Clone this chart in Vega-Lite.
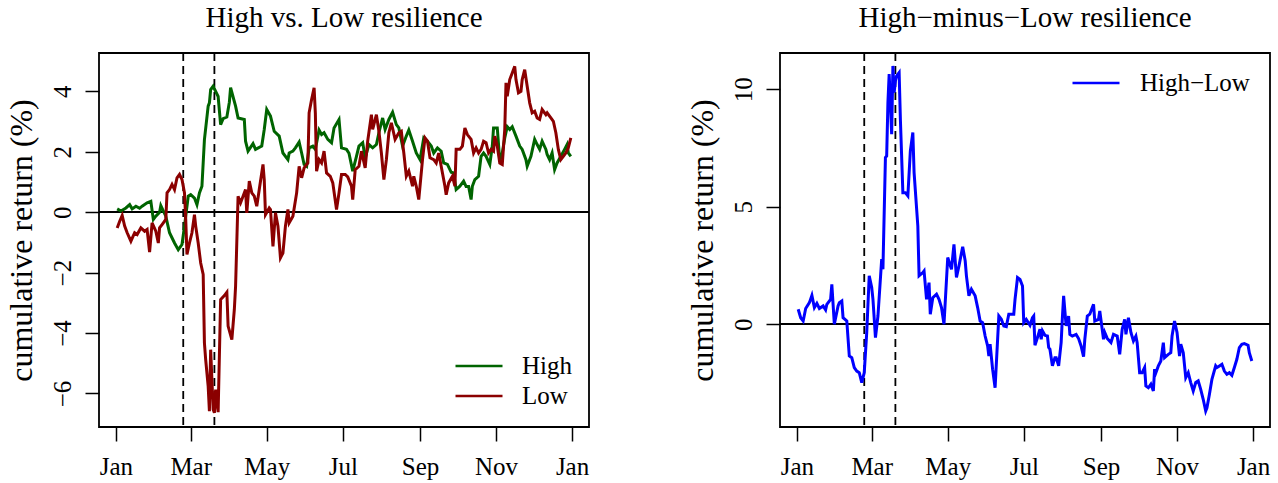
{
  "$schema": "https://vega.github.io/schema/vega-lite/v6.json",
  "background": "white",
  "padding": {"left": 4, "top": 3, "right": 0, "bottom": 0},
  "spacing": 191,
  "bounds": "flush",
  "config": {
    "font": "Liberation Serif",
    "view": {"stroke": "black", "strokeWidth": 1.8},
    "axis": {
      "domain": false, "grid": false,
      "tickColor": "black", "tickWidth": 1.5, "tickSize": 14,
      "labelFont": "Liberation Serif", "labelFontSize": 25, "labelColor": "black",
      "titleFont": "Liberation Serif", "titleFontSize": 32, "titleFontWeight": "normal", "titleColor": "black"
    },
    "title": {"font": "Liberation Serif", "fontSize": 29, "fontWeight": "normal", "color": "black", "anchor": "middle", "offset": 19},
    "legend": {"padding": 0}
  },
  "resolve": {"scale": {"color": "independent"}},
  "datasets": {
    "events": [{"d": "2020-02-24"}, {"d": "2020-03-20"}],
    "hl": [
      {"d":"2020-01-02","v":0.64},{"d":"2020-01-04","v":0.28},{"d":"2020-01-06","v":0.14},{"d":"2020-01-08","v":0.67},{"d":"2020-01-11","v":0.92},{"d":"2020-01-13","v":1.23},{"d":"2020-01-15","v":0.71},{"d":"2020-01-17","v":0.89},{"d":"2020-01-19","v":0.67},{"d":"2020-01-22","v":0.78},{"d":"2020-01-24","v":0.61},{"d":"2020-01-25","v":0.85},{"d":"2020-01-28","v":1.06},{"d":"2020-01-29","v":1.70},{"d":"2020-01-31","v":0.00},
      {"d":"2020-02-03","v":0.78},{"d":"2020-02-04","v":0.92},{"d":"2020-02-06","v":0.99},{"d":"2020-02-07","v":0.28},{"d":"2020-02-10","v":0.14},{"d":"2020-02-12","v":-1.35},{"d":"2020-02-14","v":-1.42},{"d":"2020-02-16","v":-1.84},{"d":"2020-02-18","v":-1.99},{"d":"2020-02-20","v":-2.06},{"d":"2020-02-22","v":-2.48},{"d":"2020-02-24","v":-2.06},{"d":"2020-02-26","v":-0.35},{"d":"2020-02-28","v":2.06},
      {"d":"2020-03-01","v":1.56},{"d":"2020-03-02","v":1.06},{"d":"2020-03-04","v":-0.57},{"d":"2020-03-06","v":0.35},{"d":"2020-03-09","v":2.77},{"d":"2020-03-10","v":2.34},{"d":"2020-03-12","v":7.09},{"d":"2020-03-13","v":7.16},{"d":"2020-03-14","v":9.43},{"d":"2020-03-15","v":10.64},{"d":"2020-03-17","v":8.09},{"d":"2020-03-18","v":10.99},{"d":"2020-03-19","v":9.86},{"d":"2020-03-20","v":10.35},{"d":"2020-03-21","v":10.57},{"d":"2020-03-23","v":10.71},{"d":"2020-03-24","v":8.72},{"d":"2020-03-26","v":5.60},{"d":"2020-03-28","v":5.60},{"d":"2020-03-30","v":5.46},
      {"d":"2020-04-01","v":7.38},{"d":"2020-04-03","v":8.16},{"d":"2020-04-04","v":6.45},{"d":"2020-04-07","v":4.18},{"d":"2020-04-08","v":2.06},{"d":"2020-04-11","v":2.20},{"d":"2020-04-12","v":2.27},{"d":"2020-04-14","v":1.06},{"d":"2020-04-16","v":1.77},{"d":"2020-04-17","v":0.43},{"d":"2020-04-19","v":1.13},{"d":"2020-04-22","v":1.28},{"d":"2020-04-24","v":1.06},{"d":"2020-04-26","v":0.71},{"d":"2020-04-28","v":0.00},
      {"d":"2020-05-01","v":2.84},{"d":"2020-05-03","v":2.50},{"d":"2020-05-04","v":2.34},{"d":"2020-05-06","v":3.40},{"d":"2020-05-08","v":1.99},{"d":"2020-05-10","v":2.48},{"d":"2020-05-13","v":3.30},{"d":"2020-05-15","v":2.70},{"d":"2020-05-16","v":2.06},{"d":"2020-05-18","v":1.21},{"d":"2020-05-20","v":1.49},{"d":"2020-05-23","v":1.21},{"d":"2020-05-25","v":0.71},{"d":"2020-05-27","v":0.14},{"d":"2020-05-29","v":0.07},{"d":"2020-05-31","v":-0.50},
      {"d":"2020-06-02","v":-0.92},{"d":"2020-06-03","v":-1.35},{"d":"2020-06-04","v":-0.85},{"d":"2020-06-06","v":-1.91},{"d":"2020-06-08","v":-2.70},{"d":"2020-06-11","v":0.35},{"d":"2020-06-13","v":0.21},{"d":"2020-06-15","v":-0.07},{"d":"2020-06-17","v":-0.10},{"d":"2020-06-19","v":0.43},{"d":"2020-06-21","v":0.43},{"d":"2020-06-23","v":0.43},{"d":"2020-06-24","v":1.06},{"d":"2020-06-26","v":1.99},{"d":"2020-06-28","v":1.91},{"d":"2020-06-30","v":1.63},
      {"d":"2020-07-01","v":0.07},{"d":"2020-07-03","v":0.21},{"d":"2020-07-06","v":-0.04},{"d":"2020-07-08","v":0.28},{"d":"2020-07-09","v":0.35},{"d":"2020-07-10","v":-0.89},{"d":"2020-07-12","v":-0.57},{"d":"2020-07-14","v":-0.21},{"d":"2020-07-15","v":-0.64},{"d":"2020-07-16","v":-0.28},{"d":"2020-07-18","v":-0.47},{"d":"2020-07-20","v":-0.50},{"d":"2020-07-21","v":-0.99},{"d":"2020-07-22","v":-1.06},{"d":"2020-07-24","v":-1.77},{"d":"2020-07-26","v":-1.42},{"d":"2020-07-27","v":-1.42},{"d":"2020-07-29","v":-1.77},{"d":"2020-07-31","v":-0.78},
      {"d":"2020-08-01","v":0.28},{"d":"2020-08-02","v":1.21},{"d":"2020-08-04","v":-0.07},{"d":"2020-08-06","v":0.35},{"d":"2020-08-07","v":-0.43},{"d":"2020-08-09","v":-0.50},{"d":"2020-08-12","v":-0.43},{"d":"2020-08-14","v":-0.61},{"d":"2020-08-16","v":-0.92},{"d":"2020-08-18","v":-1.38},{"d":"2020-08-19","v":-0.64},{"d":"2020-08-21","v":0.35},{"d":"2020-08-23","v":0.43},{"d":"2020-08-26","v":0.85},{"d":"2020-08-27","v":0.14},{"d":"2020-08-30","v":0.21},{"d":"2020-08-31","v":0.57},
      {"d":"2020-09-03","v":-0.64},{"d":"2020-09-04","v":-0.35},{"d":"2020-09-06","v":-0.60},{"d":"2020-09-09","v":-0.78},{"d":"2020-09-11","v":-0.43},{"d":"2020-09-14","v":-0.50},{"d":"2020-09-16","v":-1.28},{"d":"2020-09-18","v":-0.21},{"d":"2020-09-20","v":0.21},{"d":"2020-09-21","v":-0.43},{"d":"2020-09-23","v":0.28},{"d":"2020-09-25","v":-0.35},{"d":"2020-09-27","v":-0.71},{"d":"2020-09-29","v":-0.50},{"d":"2020-09-30","v":-0.78},
      {"d":"2020-10-02","v":-2.06},{"d":"2020-10-04","v":-2.06},{"d":"2020-10-06","v":-1.84},{"d":"2020-10-07","v":-2.62},{"d":"2020-10-09","v":-2.70},{"d":"2020-10-11","v":-2.55},{"d":"2020-10-13","v":-2.84},{"d":"2020-10-14","v":-1.91},{"d":"2020-10-15","v":-2.06},{"d":"2020-10-17","v":-1.77},{"d":"2020-10-19","v":-1.56},{"d":"2020-10-21","v":-0.78},{"d":"2020-10-22","v":-1.42},{"d":"2020-10-25","v":-1.28},{"d":"2020-10-27","v":-1.21},{"d":"2020-10-28","v":-0.50},{"d":"2020-10-30","v":0.14},
      {"d":"2020-11-01","v":-0.35},{"d":"2020-11-03","v":-1.35},{"d":"2020-11-04","v":-0.85},{"d":"2020-11-06","v":-1.21},{"d":"2020-11-08","v":-2.27},{"d":"2020-11-10","v":-2.06},{"d":"2020-11-12","v":-2.48},{"d":"2020-11-14","v":-2.84},{"d":"2020-11-16","v":-2.48},{"d":"2020-11-18","v":-2.41},{"d":"2020-11-20","v":-2.77},{"d":"2020-11-22","v":-3.19},{"d":"2020-11-24","v":-3.69},{"d":"2020-11-25","v":-3.55},{"d":"2020-11-27","v":-2.98},{"d":"2020-11-29","v":-2.34},
      {"d":"2020-12-02","v":-1.77},{"d":"2020-12-03","v":-1.84},{"d":"2020-12-05","v":-1.77},{"d":"2020-12-07","v":-1.70},{"d":"2020-12-09","v":-1.99},{"d":"2020-12-11","v":-2.13},{"d":"2020-12-13","v":-2.06},{"d":"2020-12-15","v":-2.17},{"d":"2020-12-17","v":-1.84},{"d":"2020-12-19","v":-1.49},{"d":"2020-12-21","v":-0.99},{"d":"2020-12-23","v":-0.85},{"d":"2020-12-25","v":-0.82},{"d":"2020-12-28","v":-0.89},{"d":"2020-12-29","v":-1.21},{"d":"2020-12-31","v":-1.56}
    ],
    "lr": [
      {"d":"2020-01-02","s":"High","v":0.11},{"d":"2020-01-05","s":"High","v":0.04},{"d":"2020-01-09","s":"High","v":0.14},{"d":"2020-01-12","s":"High","v":0.25},{"d":"2020-01-14","s":"High","v":0.11},{"d":"2020-01-17","s":"High","v":0.20},{"d":"2020-01-20","s":"High","v":0.13},{"d":"2020-01-22","s":"High","v":0.20},{"d":"2020-01-26","s":"High","v":0.31},{"d":"2020-01-29","s":"High","v":0.36},{"d":"2020-01-31","s":"High","v":-0.24},
      {"d":"2020-02-02","s":"High","v":-0.13},{"d":"2020-02-05","s":"High","v":0.00},{"d":"2020-02-06","s":"High","v":0.22},{"d":"2020-02-10","s":"High","v":-0.13},{"d":"2020-02-13","s":"High","v":-0.68},{"d":"2020-02-17","s":"High","v":-1.02},{"d":"2020-02-20","s":"High","v":-1.24},{"d":"2020-02-23","s":"High","v":-1.07},{"d":"2020-02-25","s":"High","v":-0.46},{"d":"2020-02-28","s":"High","v":0.53},
      {"d":"2020-03-01","s":"High","v":0.58},{"d":"2020-03-04","s":"High","v":0.47},{"d":"2020-03-06","s":"High","v":0.25},{"d":"2020-03-08","s":"High","v":0.64},{"d":"2020-03-10","s":"High","v":0.86},{"d":"2020-03-11","s":"High","v":1.63},{"d":"2020-03-12","s":"High","v":2.40},{"d":"2020-03-15","s":"High","v":3.51},{"d":"2020-03-16","s":"High","v":3.62},{"d":"2020-03-17","s":"High","v":4.06},{"d":"2020-03-19","s":"High","v":4.17},{"d":"2020-03-21","s":"High","v":4.00},{"d":"2020-03-23","s":"High","v":3.83},{"d":"2020-03-25","s":"High","v":2.90},{"d":"2020-03-27","s":"High","v":3.10},{"d":"2020-03-30","s":"High","v":3.15},
      {"d":"2020-04-01","s":"High","v":3.64},{"d":"2020-04-02","s":"High","v":4.12},{"d":"2020-04-06","s":"High","v":3.51},{"d":"2020-04-08","s":"High","v":3.12},{"d":"2020-04-13","s":"High","v":3.07},{"d":"2020-04-14","s":"High","v":2.35},{"d":"2020-04-16","s":"High","v":2.02},{"d":"2020-04-20","s":"High","v":2.27},{"d":"2020-04-22","s":"High","v":2.08},{"d":"2020-04-27","s":"High","v":2.19},{"d":"2020-04-29","s":"High","v":2.74},
      {"d":"2020-05-01","s":"High","v":3.40},{"d":"2020-05-04","s":"High","v":3.18},{"d":"2020-05-07","s":"High","v":2.68},{"d":"2020-05-11","s":"High","v":2.52},{"d":"2020-05-14","s":"High","v":1.96},{"d":"2020-05-18","s":"High","v":1.74},{"d":"2020-05-19","s":"High","v":1.96},{"d":"2020-05-22","s":"High","v":2.02},{"d":"2020-05-24","s":"High","v":2.13},{"d":"2020-05-27","s":"High","v":2.32},{"d":"2020-05-29","s":"High","v":1.96},{"d":"2020-05-31","s":"High","v":1.58},
      {"d":"2020-06-02","s":"High","v":1.52},{"d":"2020-06-04","s":"High","v":2.13},{"d":"2020-06-07","s":"High","v":2.19},{"d":"2020-06-09","s":"High","v":2.08},{"d":"2020-06-12","s":"High","v":2.72},{"d":"2020-06-14","s":"High","v":2.57},{"d":"2020-06-16","s":"High","v":2.63},{"d":"2020-06-19","s":"High","v":2.41},{"d":"2020-06-22","s":"High","v":2.30},{"d":"2020-06-24","s":"High","v":2.79},{"d":"2020-06-28","s":"High","v":3.07},{"d":"2020-06-30","s":"High","v":2.13},
      {"d":"2020-07-04","s":"High","v":2.08},{"d":"2020-07-06","s":"High","v":1.95},{"d":"2020-07-09","s":"High","v":1.36},{"d":"2020-07-12","s":"High","v":1.85},{"d":"2020-07-14","s":"High","v":2.19},{"d":"2020-07-17","s":"High","v":2.30},{"d":"2020-07-19","s":"High","v":1.80},{"d":"2020-07-22","s":"High","v":2.24},{"d":"2020-07-25","s":"High","v":2.13},{"d":"2020-07-28","s":"High","v":2.24},{"d":"2020-07-30","s":"High","v":2.63},
      {"d":"2020-08-02","s":"High","v":3.12},{"d":"2020-08-04","s":"High","v":2.74},{"d":"2020-08-07","s":"High","v":3.07},{"d":"2020-08-10","s":"High","v":3.31},{"d":"2020-08-13","s":"High","v":2.90},{"d":"2020-08-15","s":"High","v":2.79},{"d":"2020-08-18","s":"High","v":2.19},{"d":"2020-08-21","s":"High","v":2.52},{"d":"2020-08-23","s":"High","v":2.72},{"d":"2020-08-26","s":"High","v":2.35},{"d":"2020-08-29","s":"High","v":1.96},
      {"d":"2020-09-01","s":"High","v":1.74},{"d":"2020-09-04","s":"High","v":2.46},{"d":"2020-09-07","s":"High","v":2.35},{"d":"2020-09-10","s":"High","v":2.19},{"d":"2020-09-12","s":"High","v":1.96},{"d":"2020-09-15","s":"High","v":2.13},{"d":"2020-09-18","s":"High","v":2.02},{"d":"2020-09-20","s":"High","v":1.63},{"d":"2020-09-23","s":"High","v":1.58},{"d":"2020-09-26","s":"High","v":1.32},{"d":"2020-09-28","s":"High","v":1.30},{"d":"2020-09-30","s":"High","v":0.75},
      {"d":"2020-10-03","s":"High","v":0.86},{"d":"2020-10-06","s":"High","v":1.03},{"d":"2020-10-08","s":"High","v":0.85},{"d":"2020-10-10","s":"High","v":0.85},{"d":"2020-10-12","s":"High","v":0.42},{"d":"2020-10-13","s":"High","v":0.86},{"d":"2020-10-15","s":"High","v":1.08},{"d":"2020-10-18","s":"High","v":1.19},{"d":"2020-10-20","s":"High","v":1.85},{"d":"2020-10-22","s":"High","v":1.96},{"d":"2020-10-24","s":"High","v":1.85},{"d":"2020-10-27","s":"High","v":1.58},{"d":"2020-10-29","s":"High","v":2.19},{"d":"2020-10-30","s":"High","v":2.79},
      {"d":"2020-11-02","s":"High","v":2.79},{"d":"2020-11-04","s":"High","v":1.69},{"d":"2020-11-06","s":"High","v":1.96},{"d":"2020-11-08","s":"High","v":2.46},{"d":"2020-11-10","s":"High","v":2.83},{"d":"2020-11-12","s":"High","v":2.74},{"d":"2020-11-14","s":"High","v":2.83},{"d":"2020-11-17","s":"High","v":2.52},{"d":"2020-11-20","s":"High","v":2.19},{"d":"2020-11-22","s":"High","v":2.08},{"d":"2020-11-25","s":"High","v":1.74},{"d":"2020-11-26","s":"High","v":1.52},{"d":"2020-11-29","s":"High","v":1.85},
      {"d":"2020-12-02","s":"High","v":2.41},{"d":"2020-12-04","s":"High","v":2.24},{"d":"2020-12-06","s":"High","v":2.08},{"d":"2020-12-08","s":"High","v":2.35},{"d":"2020-12-11","s":"High","v":2.08},{"d":"2020-12-12","s":"High","v":1.91},{"d":"2020-12-14","s":"High","v":1.74},{"d":"2020-12-16","s":"High","v":1.96},{"d":"2020-12-18","s":"High","v":1.41},{"d":"2020-12-20","s":"High","v":1.63},{"d":"2020-12-23","s":"High","v":1.85},{"d":"2020-12-26","s":"High","v":2.08},{"d":"2020-12-28","s":"High","v":2.24},{"d":"2020-12-29","s":"High","v":1.96},{"d":"2020-12-31","s":"High","v":1.85},
      {"d":"2020-01-02","s":"Low","v":-0.52},{"d":"2020-01-04","s":"Low","v":-0.30},{"d":"2020-01-06","s":"Low","v":-0.11},{"d":"2020-01-08","s":"Low","v":-0.46},{"d":"2020-01-10","s":"Low","v":-0.68},{"d":"2020-01-13","s":"Low","v":-0.96},{"d":"2020-01-16","s":"Low","v":-0.68},{"d":"2020-01-18","s":"Low","v":-0.74},{"d":"2020-01-21","s":"Low","v":-0.52},{"d":"2020-01-24","s":"Low","v":-0.63},{"d":"2020-01-26","s":"Low","v":-0.57},{"d":"2020-01-28","s":"Low","v":-1.32},{"d":"2020-01-30","s":"Low","v":-0.35},
      {"d":"2020-02-02","s":"Low","v":-0.63},{"d":"2020-02-04","s":"Low","v":-1.02},{"d":"2020-02-05","s":"Low","v":-0.52},{"d":"2020-02-07","s":"Low","v":-0.41},{"d":"2020-02-10","s":"Low","v":-0.24},{"d":"2020-02-11","s":"Low","v":0.64},{"d":"2020-02-13","s":"Low","v":0.75},{"d":"2020-02-15","s":"Low","v":0.92},{"d":"2020-02-17","s":"Low","v":0.75},{"d":"2020-02-19","s":"Low","v":1.14},{"d":"2020-02-21","s":"Low","v":1.25},{"d":"2020-02-23","s":"Low","v":1.08},{"d":"2020-02-25","s":"Low","v":0.64},{"d":"2020-02-26","s":"Low","v":-0.24},{"d":"2020-02-27","s":"Low","v":-1.40},{"d":"2020-02-29","s":"Low","v":-1.02},
      {"d":"2020-03-02","s":"Low","v":-0.68},{"d":"2020-03-04","s":"Low","v":-0.08},{"d":"2020-03-05","s":"Low","v":-0.46},{"d":"2020-03-07","s":"Low","v":-1.02},{"d":"2020-03-09","s":"Low","v":-1.68},{"d":"2020-03-11","s":"Low","v":-2.06},{"d":"2020-03-12","s":"Low","v":-4.33},{"d":"2020-03-13","s":"Low","v":-4.88},{"d":"2020-03-15","s":"Low","v":-5.76},{"d":"2020-03-16","s":"Low","v":-6.59},{"d":"2020-03-17","s":"Low","v":-4.55},{"d":"2020-03-19","s":"Low","v":-6.53},{"d":"2020-03-20","s":"Low","v":-6.64},{"d":"2020-03-21","s":"Low","v":-5.87},{"d":"2020-03-23","s":"Low","v":-6.62},{"d":"2020-03-25","s":"Low","v":-2.89},{"d":"2020-03-28","s":"Low","v":-2.76},{"d":"2020-03-30","s":"Low","v":-2.65},{"d":"2020-03-31","s":"Low","v":-3.77},
      {"d":"2020-04-03","s":"Low","v":-4.22},{"d":"2020-04-05","s":"Low","v":-3.22},{"d":"2020-04-06","s":"Low","v":-2.45},{"d":"2020-04-08","s":"Low","v":0.53},{"d":"2020-04-10","s":"Low","v":0.31},{"d":"2020-04-12","s":"Low","v":0.53},{"d":"2020-04-14","s":"Low","v":0.75},{"d":"2020-04-15","s":"Low","v":-0.02},{"d":"2020-04-17","s":"Low","v":1.03},{"d":"2020-04-19","s":"Low","v":0.64},{"d":"2020-04-21","s":"Low","v":0.53},{"d":"2020-04-23","s":"Low","v":0.20},{"d":"2020-04-25","s":"Low","v":0.75},{"d":"2020-04-28","s":"Low","v":1.58},{"d":"2020-04-29","s":"Low","v":1.08},{"d":"2020-04-30","s":"Low","v":-0.08},
      {"d":"2020-05-03","s":"Low","v":0.14},{"d":"2020-05-04","s":"Low","v":0.09},{"d":"2020-05-06","s":"Low","v":-1.13},{"d":"2020-05-08","s":"Low","v":-0.02},{"d":"2020-05-10","s":"Low","v":-0.46},{"d":"2020-05-12","s":"Low","v":-1.51},{"d":"2020-05-14","s":"Low","v":-1.35},{"d":"2020-05-16","s":"Low","v":-0.46},{"d":"2020-05-18","s":"Low","v":0.09},{"d":"2020-05-19","s":"Low","v":-0.35},{"d":"2020-05-22","s":"Low","v":-0.13},{"d":"2020-05-25","s":"Low","v":0.64},{"d":"2020-05-27","s":"Low","v":1.52},{"d":"2020-05-29","s":"Low","v":1.14},{"d":"2020-05-31","s":"Low","v":1.47},
      {"d":"2020-06-03","s":"Low","v":1.63},{"d":"2020-06-04","s":"Low","v":3.29},{"d":"2020-06-06","s":"Low","v":3.73},{"d":"2020-06-08","s":"Low","v":4.12},{"d":"2020-06-09","s":"Low","v":3.29},{"d":"2020-06-10","s":"Low","v":1.36},{"d":"2020-06-12","s":"Low","v":1.74},{"d":"2020-06-14","s":"Low","v":1.63},{"d":"2020-06-16","s":"Low","v":2.02},{"d":"2020-06-18","s":"Low","v":1.30},{"d":"2020-06-21","s":"Low","v":1.19},{"d":"2020-06-23","s":"Low","v":0.97},{"d":"2020-06-26","s":"Low","v":0.09},{"d":"2020-06-28","s":"Low","v":0.64},{"d":"2020-06-30","s":"Low","v":1.25},
      {"d":"2020-07-03","s":"Low","v":1.25},{"d":"2020-07-05","s":"Low","v":1.17},{"d":"2020-07-08","s":"Low","v":0.86},{"d":"2020-07-09","s":"Low","v":0.42},{"d":"2020-07-11","s":"Low","v":1.41},{"d":"2020-07-14","s":"Low","v":1.52},{"d":"2020-07-16","s":"Low","v":2.02},{"d":"2020-07-19","s":"Low","v":1.47},{"d":"2020-07-21","s":"Low","v":2.35},{"d":"2020-07-24","s":"Low","v":3.23},{"d":"2020-07-25","s":"Low","v":2.74},{"d":"2020-07-28","s":"Low","v":3.23},{"d":"2020-07-30","s":"Low","v":2.68},
      {"d":"2020-08-01","s":"Low","v":1.96},{"d":"2020-08-03","s":"Low","v":1.08},{"d":"2020-08-05","s":"Low","v":1.74},{"d":"2020-08-07","s":"Low","v":2.63},{"d":"2020-08-09","s":"Low","v":2.96},{"d":"2020-08-12","s":"Low","v":2.41},{"d":"2020-08-15","s":"Low","v":2.63},{"d":"2020-08-17","s":"Low","v":2.68},{"d":"2020-08-19","s":"Low","v":1.96},{"d":"2020-08-21","s":"Low","v":1.19},{"d":"2020-08-23","s":"Low","v":1.36},{"d":"2020-08-26","s":"Low","v":0.86},{"d":"2020-08-27","s":"Low","v":1.19},{"d":"2020-08-29","s":"Low","v":0.86},{"d":"2020-08-31","s":"Low","v":0.42},
      {"d":"2020-09-03","s":"Low","v":1.74},{"d":"2020-09-05","s":"Low","v":2.46},{"d":"2020-09-07","s":"Low","v":2.35},{"d":"2020-09-09","s":"Low","v":1.80},{"d":"2020-09-12","s":"Low","v":1.74},{"d":"2020-09-14","s":"Low","v":1.63},{"d":"2020-09-16","s":"Low","v":1.96},{"d":"2020-09-19","s":"Low","v":1.30},{"d":"2020-09-21","s":"Low","v":0.86},{"d":"2020-09-22","s":"Low","v":0.58},{"d":"2020-09-24","s":"Low","v":0.97},{"d":"2020-09-27","s":"Low","v":1.19},{"d":"2020-09-29","s":"Low","v":0.86},{"d":"2020-09-30","s":"Low","v":2.08},
      {"d":"2020-10-03","s":"Low","v":2.08},{"d":"2020-10-05","s":"Low","v":2.19},{"d":"2020-10-07","s":"Low","v":2.79},{"d":"2020-10-09","s":"Low","v":2.57},{"d":"2020-10-12","s":"Low","v":2.41},{"d":"2020-10-14","s":"Low","v":1.96},{"d":"2020-10-16","s":"Low","v":2.13},{"d":"2020-10-18","s":"Low","v":1.96},{"d":"2020-10-20","s":"Low","v":2.08},{"d":"2020-10-22","s":"Low","v":2.35},{"d":"2020-10-24","s":"Low","v":2.30},{"d":"2020-10-26","s":"Low","v":1.96},{"d":"2020-10-28","s":"Low","v":2.08},{"d":"2020-10-30","s":"Low","v":2.02},{"d":"2020-10-31","s":"Low","v":2.52},
      {"d":"2020-11-02","s":"Low","v":2.19},{"d":"2020-11-04","s":"Low","v":1.63},{"d":"2020-11-06","s":"Low","v":1.58},{"d":"2020-11-08","s":"Low","v":2.74},{"d":"2020-11-09","s":"Low","v":4.28},{"d":"2020-11-10","s":"Low","v":3.84},{"d":"2020-11-12","s":"Low","v":4.39},{"d":"2020-11-14","s":"Low","v":4.61},{"d":"2020-11-16","s":"Low","v":4.83},{"d":"2020-11-17","s":"Low","v":4.39},{"d":"2020-11-19","s":"Low","v":3.95},{"d":"2020-11-21","s":"Low","v":4.00},{"d":"2020-11-22","s":"Low","v":4.39},{"d":"2020-11-24","s":"Low","v":4.72},{"d":"2020-11-26","s":"Low","v":4.17},{"d":"2020-11-28","s":"Low","v":3.62},{"d":"2020-11-30","s":"Low","v":3.29},
      {"d":"2020-12-02","s":"Low","v":3.34},{"d":"2020-12-04","s":"Low","v":3.12},{"d":"2020-12-06","s":"Low","v":3.07},{"d":"2020-12-08","s":"Low","v":3.40},{"d":"2020-12-11","s":"Low","v":3.23},{"d":"2020-12-12","s":"Low","v":3.29},{"d":"2020-12-15","s":"Low","v":3.12},{"d":"2020-12-17","s":"Low","v":3.01},{"d":"2020-12-19","s":"Low","v":2.63},{"d":"2020-12-21","s":"Low","v":2.08},{"d":"2020-12-23","s":"Low","v":1.74},{"d":"2020-12-25","s":"Low","v":1.85},{"d":"2020-12-27","s":"Low","v":1.96},{"d":"2020-12-29","s":"Low","v":2.13},{"d":"2020-12-31","s":"Low","v":2.46}
    ]
  },
  "hconcat": [
    {
      "width": 490, "height": 374,
      "title": "High vs. Low resilience",
      "layer": [
        {
          "data": {"name": "lr"},
          "mark": {"type": "rule", "color": "black", "strokeWidth": 1},
          "encoding": {"y": {"datum": 0, "type": "quantitative"}}
        },
        {
          "data": {"name": "events"},
          "mark": {"type": "rule", "color": "black", "strokeWidth": 1.8, "strokeDash": [8, 5]},
          "encoding": {"x": {"field": "d", "type": "temporal"}}
        },
        {
          "data": {"name": "lr"},
          "mark": {"type": "line", "strokeWidth": 3, "interpolate": "linear"},
          "encoding": {
            "x": {"field": "d", "type": "temporal",
                  "scale": {"type": "utc", "domain": [{"year": 2019, "month": 12, "date": 18, "hours": 9, "minutes": 36, "utc": true}, {"year": 2021, "month": 1, "date": 14, "hours": 14, "minutes": 24, "utc": true}]},
                  "axis": {"title": null, "format": "%b", "labelPadding": 13, "labelFlush": false,
                           "values": [{"year": 2020, "month": 1, "date": 1, "utc": true}, {"year": 2020, "month": 3, "date": 1, "utc": true}, {"year": 2020, "month": 5, "date": 1, "utc": true}, {"year": 2020, "month": 7, "date": 1, "utc": true}, {"year": 2020, "month": 9, "date": 1, "utc": true}, {"year": 2020, "month": 11, "date": 1, "utc": true}, {"year": 2021, "month": 1, "date": 1, "utc": true}]}},
            "y": {"field": "v", "type": "quantitative",
                  "scale": {"domain": [-7.11, 5.27], "nice": false, "zero": false},
                  "axis": {"title": "cumulative return (%)", "values": [-6, -4, -2, 0, 2, 4], "labelAngle": 270, "labelAlign": "center", "labelBaseline": "bottom", "labelPadding": 10, "titlePadding": 12}},
            "color": {"field": "s", "type": "nominal",
                      "scale": {"domain": ["High", "Low"], "range": ["#006400", "#8B0000"]},
                      "legend": {"orient": "none", "legendX": 355, "legendY": 298, "title": null, "symbolType": "stroke", "symbolSize": 2209, "symbolStrokeWidth": 2.5, "clipHeight": 30, "rowPadding": 0, "labelFontSize": 25, "labelFont": "Liberation Serif", "labelColor": "black", "labelOffset": 18, "labelLimit": 0}}
          }
        }
      ]
    },
    {
      "width": 490, "height": 374,
      "title": "High−minus−Low resilience",
      "layer": [
        {
          "data": {"name": "hl"},
          "mark": {"type": "rule", "color": "black", "strokeWidth": 1},
          "encoding": {"y": {"datum": 0, "type": "quantitative"}}
        },
        {
          "data": {"name": "events"},
          "mark": {"type": "rule", "color": "black", "strokeWidth": 1.8, "strokeDash": [8, 5]},
          "encoding": {"x": {"field": "d", "type": "temporal"}}
        },
        {
          "data": {"name": "hl"},
          "mark": {"type": "line", "strokeWidth": 3, "color": "#0000FF"},
          "encoding": {
            "x": {"field": "d", "type": "temporal",
                  "scale": {"type": "utc", "domain": [{"year": 2019, "month": 12, "date": 18, "hours": 9, "minutes": 36, "utc": true}, {"year": 2021, "month": 1, "date": 14, "hours": 14, "minutes": 24, "utc": true}]},
                  "axis": {"title": null, "format": "%b", "labelPadding": 13, "labelFlush": false,
                           "values": [{"year": 2020, "month": 1, "date": 1, "utc": true}, {"year": 2020, "month": 3, "date": 1, "utc": true}, {"year": 2020, "month": 5, "date": 1, "utc": true}, {"year": 2020, "month": 7, "date": 1, "utc": true}, {"year": 2020, "month": 9, "date": 1, "utc": true}, {"year": 2020, "month": 11, "date": 1, "utc": true}, {"year": 2021, "month": 1, "date": 1, "utc": true}]}},
            "y": {"field": "v", "type": "quantitative",
                  "scale": {"domain": [-4.37, 11.54], "nice": false, "zero": false},
                  "axis": {"title": "cumulative return (%)", "values": [0, 5, 10], "labelAngle": 270, "labelAlign": "center", "labelBaseline": "bottom", "labelPadding": 10, "titlePadding": 12}},
            "color": {"datum": "High−Low", "type": "nominal",
                      "scale": {"domain": ["High−Low"], "range": ["#0000FF"]},
                      "legend": {"orient": "none", "legendX": 291, "legendY": 15, "title": null, "symbolType": "stroke", "symbolSize": 2209, "symbolStrokeWidth": 2.5, "clipHeight": 30, "rowPadding": 0, "labelFontSize": 25, "labelFont": "Liberation Serif", "labelColor": "black", "labelOffset": 19, "labelLimit": 0}}
          }
        }
      ]
    }
  ]
}
